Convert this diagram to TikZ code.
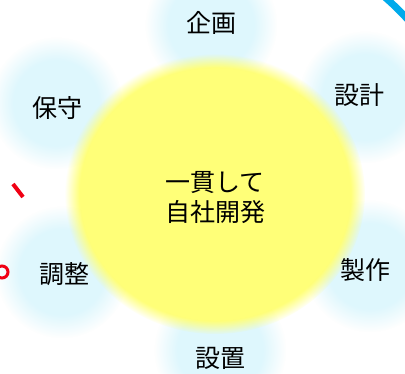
\documentclass[tikz,border=0pt]{standalone}
\usepackage{fontspec}
\newfontfamily\jpfont{Noto Sans CJK JP}
\usetikzlibrary{fadings}
\definecolor{blobblue}{RGB}{222,247,253}
\definecolor{coreyellow}{RGB}{255,255,120}
\definecolor{markred}{RGB}{240,0,20}
\definecolor{arcblue}{RGB}{0,170,235}
% soft disc: opaque up to two thirds of the radius, then fading out
\pgfdeclareradialshading{softdiscshade}{\pgfpointorigin}{color(0bp)=(white); color(16bp)=(white); color(25bp)=(black); color(50bp)=(black)}
\pgfdeclarefading{softdisc}{\pgfuseshading{softdiscshade}}
\tikzset{
  blob/.style={fill=blobblue, path fading=softdisc},
  core/.style={fill=coreyellow, path fading=circle with fuzzy edge 10 percent},
  phase/.style={font=\jpfont\fontsize{25}{30}\selectfont, inner sep=0pt},
  redmark/.style={draw=markred, line width=4pt},
  ring/.style={draw=arcblue, line width=7pt}
}

\begin{document}
\begin{tikzpicture}[x=1pt, y=-1pt]
  \useasboundingbox (0,0) rectangle (405,373);
  \clip (0,0) rectangle (405,373);
  \fill[white] (0,0) rectangle (405,373);

  % Centres of the phases
  \coordinate (C) at (215,194);
  \coordinate (P1) at (211,25);
  \coordinate (P2) at (365,97);
  \coordinate (P3) at (370,266);
  \coordinate (P4) at (220,350);
  \coordinate (P5) at (62,272);
  \coordinate (P6) at (56,103);

  % Blurred blobs
  \foreach \p in {P1,P2,P3,P4,P5,P6}
    \fill[blob] (\p) circle[radius=66];
  \fill[core] (C) ellipse[x radius=150, y radius=140];

  % Labels
  \node[phase, align=center] (core) at (215,198) {一貫して\\自社開発};
  \node[phase] (plan) at (211,23) {企画};
  \node[phase] (design) at (359,95) {設計};
  \node[phase] (make) at (365,270) {製作};
  \node[phase] (setup) at (220,358) {設置};
  \node[phase] (tune) at (64,274) {調整};
  \node[phase] (keep) at (57,108) {保守};

  % Marks cut at the border
  \draw[redmark] (13,184) -- (23,197);
  \draw[markred, line width=3pt] (2,272) circle[radius=6];
  \draw[ring] (C) ++(-50:260) arc[start angle=-50, end angle=-40, radius=260];
\end{tikzpicture}
\end{document}
